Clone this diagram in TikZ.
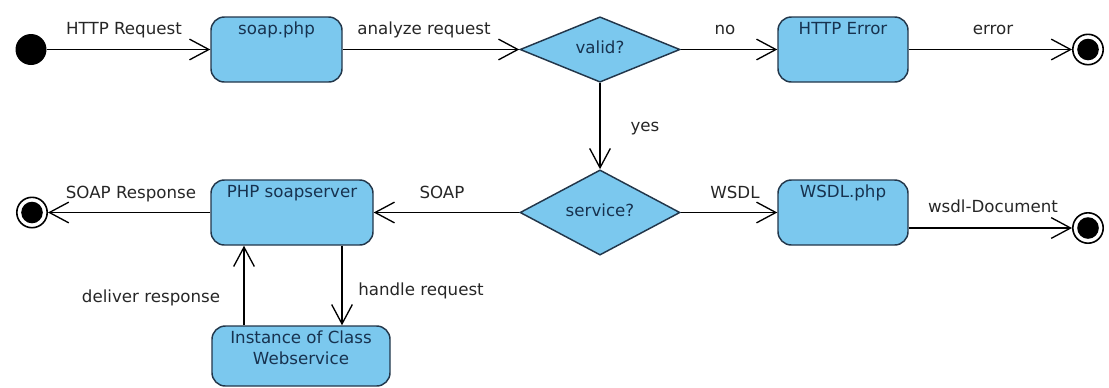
\documentclass[tikz,border=0pt]{standalone}
\usepackage{fontspec}
\setmainfont{DejaVu Sans}
\usetikzlibrary{shapes.geometric,arrows.meta}

\definecolor{actfill}{HTML}{7BC8EE}
\definecolor{actline}{HTML}{22364A}
\definecolor{acttext}{HTML}{17324F}
\definecolor{lbltext}{HTML}{262626}

\begin{document}
\begin{tikzpicture}[x=0.75pt,y=-0.75pt,
  font=\fontsize{12.5}{15.75}\selectfont,
  actbox/.style 2 args={draw=actline, fill=actfill, line width=1.1pt,
    rounded corners=10pt, minimum width={#1*0.75pt}, minimum height={#2*0.75pt},
    inner sep=0pt},
  acttitle/.style={text=acttext, anchor=north, inner sep=0pt, align=center,
    yshift=-4.2pt},
  decision/.style 2 args={diamond, draw=actline, fill=actfill, line width=1.1pt,
    minimum width={#1*0.75pt}, minimum height={#2*0.75pt}, inner sep=0pt,
    text=acttext},
  startdot/.style={circle, fill=black, minimum size=23.25pt, inner sep=0pt},
  enddot/.style={circle, draw=black, line width=1.2pt, fill=white,
    minimum size=22.8pt, inner sep=0pt,
    path picture={\fill[black] (path picture bounding box.center) circle (8.1pt);}},
  flow/.style={draw=black, line width=1pt,
    -{Straight Barb[length=14.5pt,width=15.5pt,line width=1pt]}},
  lbl/.style={text=lbltext, anchor=base, inner sep=0pt}]

\useasboundingbox (0,0) rectangle (1109,387);

% top row: request check
\node[startdot] (start) at (31,49.5) {};
\node[actbox={131}{65}] (soap) at (276.5,49.5) {};
\node[acttitle] (soap-t) at (soap.north) {soap.php};
\node[decision={160}{63}] (valid) at (600,49.5) {\raisebox{3pt}{valid?}};
\node[actbox={130}{65}] (err) at (843,49.5) {};
\node[acttitle] (err-t) at (err.north) {HTTP Error};
\node[enddot] (end1) at (1088,49.5) {};

% middle row: dispatch on requested service
\node[enddot] (end2) at (32,212.5) {};
\node[actbox={162}{65}] (srv) at (292,212.5) {};
\node[acttitle] (srv-t) at (srv.north) {PHP soapserver};
\node[decision={160}{62}] (service) at (600,212.5) {\raisebox{3pt}{service?}};
\node[actbox={130}{65}] (wsdl) at (843,212.5) {};
\node[acttitle] (wsdl-t) at (wsdl.north) {WSDL.php};
\node[enddot] (end3) at (1088,228) {};

% bottom: the web service object
\node[actbox={178}{60}] (inst) at (301,356) {};
\node[acttitle] (inst-t) at (inst.north) {Instance of Class\\Webservice};

\coordinate (colA) at (244,0);
\coordinate (colB) at (342,0);

% connectors
\draw[flow] (start) -- (soap);
\draw[flow] (soap) -- (valid);
\draw[flow] (valid) -- (err);
\draw[flow] (err) -- (end1);
\draw[flow] (valid) -- (service);
\draw[flow] (service) -- (srv);
\draw[flow] (service) -- (wsdl);
\draw[flow] (wsdl.east |- end3) -- (end3);
\draw[flow] (srv) -- (end2);
\draw[flow] (colB |- srv.south) -- (colB |- inst.north);
\draw[flow] (colA |- inst.north) -- (colA |- srv.south);

% transition labels
\node[lbl] (l-http) at (124,34) {HTTP Request};
\node[lbl] (l-analyze) at (424,34) {analyze request};
\node[lbl] (l-no) at (725,34) {no};
\node[lbl] (l-error) at (993,34) {error};
\node[lbl] (l-yes) at (645,131) {yes};
\node[lbl] (l-resp) at (131,198) {SOAP Response};
\node[lbl] (l-soap) at (442,198) {SOAP};
\node[lbl] (l-wsdl) at (735,198) {WSDL};
\node[lbl] (l-doc) at (993,212) {wsdl-Document};
\node[lbl] (l-deliver) at (151,302) {deliver response};
\node[lbl] (l-handle) at (421,295) {handle request};
\end{tikzpicture}
\end{document}
